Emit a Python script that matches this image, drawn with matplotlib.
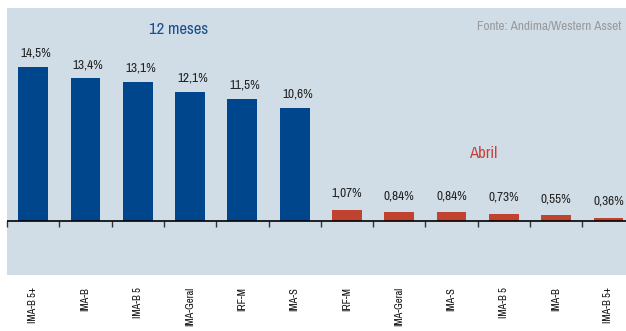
import matplotlib
matplotlib.use("Agg")
import matplotlib.pyplot as plt
from matplotlib import font_manager as fm

names = {f.name for f in fm.fontManager.ttflist}
FONT = "Liberation Sans"
for cand in ["Liberation Sans Narrow", "Arial Narrow", "Archivo Narrow",
             "Roboto Condensed", "PT Sans Narrow"]:
    if cand in names:
        FONT = cand
        break
plt.rcParams['font.family'] = [FONT, 'DejaVu Sans']

categories = ["IMA-B 5+", "IMA-B", "IMA-B 5", "IMA-Geral", "IRF-M", "IMA-S",
              "IRF-M", "IMA-Geral", "IMA-S", "IMA-B 5", "IMA-B", "IMA-B 5+"]
values_12m = [14.5, 13.4, 13.1, 12.1, 11.5, 10.6]
values_abr = [1.07, 0.84, 0.84, 0.73, 0.55, 0.36]
labels_12m = ["14,5%", "13,4%", "13,1%", "12,1%", "11,5%", "10,6%"]
labels_abr = ["1,07%", "0,84%", "0,84%", "0,73%", "0,55%", "0,36%"]

BLUE = "#00468C"
RED = "#C0432F"
PANEL = "#D0DDE6"

fig = plt.figure(figsize=(6.26, 3.31), dpi=100)
ax = fig.add_axes([7/626, 1 - 274.7/331, 619/626, 266.7/331])
ax.set_facecolor(PANEL)

x12 = list(range(len(values_12m)))
xab = list(range(len(values_12m), len(categories)))
ax.bar(x12, values_12m, width=0.57, color=BLUE, zorder=2)
ax.bar(xab, values_abr, width=0.57, color=RED, zorder=2)

for xi, v, lab in zip(x12, values_12m, labels_12m):
    ax.annotate(lab, (xi, v), xytext=(2, 6), textcoords="offset points",
                ha="center", va="bottom", fontsize=9.5, color="#222222",
                fontweight="medium")
for xi, v, lab in zip(xab, values_abr, labels_abr):
    ax.annotate(lab, (xi, v), xytext=(0, 8), textcoords="offset points",
                ha="center", va="bottom", fontsize=9.5, color="#222222",
                fontweight="medium")

ax.set_xlim(-0.5, 11.335)
ax.set_ylim(-5, 20)

for s in ax.spines.values():
    s.set_visible(False)
ax.set_yticks([])
ax.set_xticks(range(len(categories)))
ax.set_xticklabels(categories, rotation=90, fontsize=7.6, color="#111111")
ax.tick_params(axis='x', length=0, pad=9)

ax.axhline(0, color="black", lw=1.2, zorder=3)
sec = ax.secondary_xaxis(0, transform=ax.transData)
sec.spines['bottom'].set_visible(False)
sec.set_xticks([i - 0.5 for i in range(len(categories) + 1)])
sec.set_xticklabels([])
sec.tick_params(axis='x', direction='out', length=4, width=1, color="#333333")

ax.text(2.78, 18.0, "12 meses", ha="center", va="center", fontsize=12,
        color="#1B4F8F", fontweight="semibold")
ax.text(8.6, 6.4, "Abril", ha="center", va="center", fontsize=12,
        color="#C8423A", fontweight="semibold")
ax.text(0.993, 0.93, "Fonte: Andima/Western Asset", transform=ax.transAxes,
        ha="right", va="center", fontsize=9.5, color="#9A9A9A")

fig.savefig("out.png", dpi=100)
